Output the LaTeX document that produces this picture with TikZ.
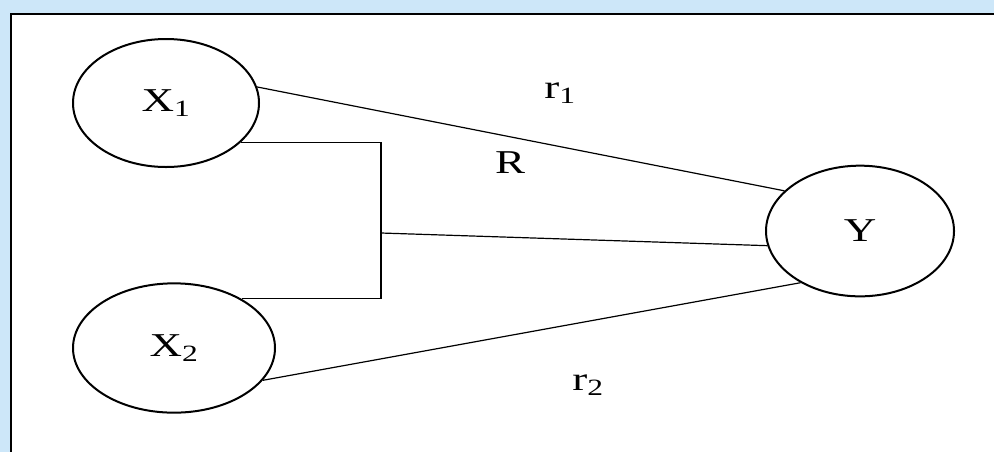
\documentclass[tikz,border=0pt]{standalone}
\usepackage{fontspec}
\setmainfont{Liberation Serif}[FakeStretch=1.35]
\usetikzlibrary{shapes.geometric}
\definecolor{pagebg}{HTML}{CDE7F9}

\begin{document}
\begin{tikzpicture}[x=0.75pt, y=-0.75pt,
  var/.style={ellipse, draw, line width=1.5pt, inner sep=0pt, font=\fontsize{25}{30}\selectfont},
  link/.style={line width=0.9pt},
  lbl/.style={font=\fontsize{25}{30}\selectfont}]

% Page area and the frame round the figure (only top and left edge show)
\useasboundingbox (0,0) rectangle (994,451);
\clip (0,0) rectangle (994,451);
\fill[pagebg] (-5,-5) rectangle (1000,460);
\fill[white] (11,14) rectangle (1000,460);
\draw[line width=1.6pt] (11,460) |- (1000,14);

% Variables
\node[var, minimum width=139.5pt, minimum height=96pt] (x1) at (166,103) {X\textsubscript{1}};
\node[var, minimum width=151.5pt, minimum height=97pt] (x2) at (174,348) {X\textsubscript{2}};
\node[var, minimum width=141pt, minimum height=98pt] (y) at (860,231) {Y};

% Joint of the bracket
\coordinate (jn) at (381,233);

% Step 1: single links
\draw[link] (x1.10) -- (y.152);
\draw[link] (x2.-20) -- (y.221);

% Step 2: bracket for the joint link
\draw[link] (x1.-28) -| (jn) |- (x2.36);
\draw[link] (jn) -- (y.189);

% Labels
\node[lbl] (r1) at (560,93) {r\textsubscript{1}};
\node[lbl] (rr) at (510,163) {R};
\node[lbl] (r2) at (588,385) {r\textsubscript{2}};
\end{tikzpicture}
\end{document}
